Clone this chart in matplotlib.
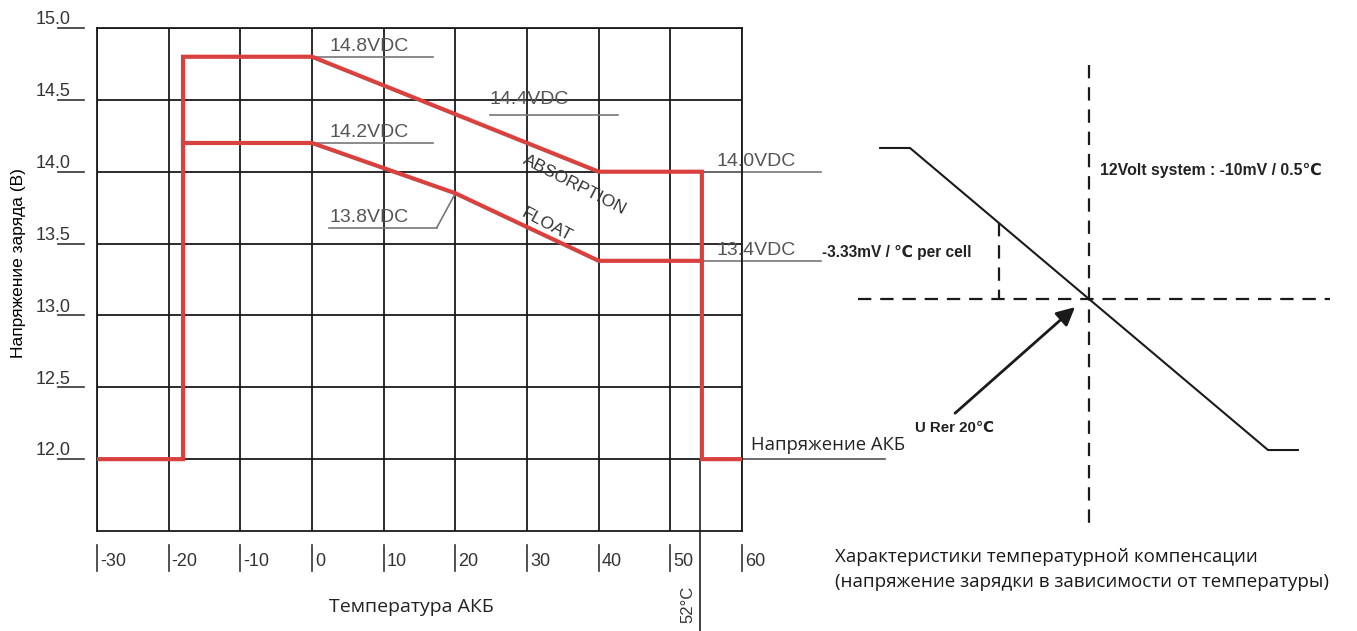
import numpy as np
import matplotlib
matplotlib.use("Agg")
import matplotlib.pyplot as plt

plt.rcParams['font.family'] = ['Liberation Sans', 'DejaVu Sans']

# --- left chart data (temperature C, voltage V) ---
x_ticks = [-30, -20, -10, 0, 10, 20, 30, 40, 50, 60]
y_ticks = [12.0, 12.5, 13.0, 13.5, 14.0, 14.5, 15.0]

# absorption curve (with the low-temp / high-temp cutoff legs)
abs_t = [-30, -18, -18, 0, 40, 54.4, 54.4, 60]
abs_v = [12.0, 12.0, 14.8, 14.8, 14.0, 14.0, 12.0, 12.0]
# float curve
flt_t = [-18, 0, 20, 40, 54.4]
flt_v = [14.2, 14.2, 13.85, 13.38, 13.38]

# labels: text, text x, text y, line x0, line x1, line y
vdc_labels = [
    ("14.8VDC", 2.4, 14.8, 0, 16.9, 14.8),
    ("14.2VDC", 2.4, 14.2, 0, 16.9, 14.2),
    ("13.8VDC", 2.4, 13.61, 2.4, 17.4, 13.61),
    ("14.0VDC", 56.5, 14.0, 54.4, 71.0, 14.0),
    ("13.4VDC", 56.5, 13.38, 54.4, 71.0, 13.38),
]
cutoff_t = 54.2

# --- right schematic data (temperature C, mV relative to 20C) ---
comp_t = [-15, -10, 50, 55]
comp_mv = [600, 600, -600, -600]
ref_t = 20
mark_t = 5

fig = plt.figure(figsize=(13.57, 6.31), dpi=100)
ax = fig.add_axes([97/1357, 100/631, 645/1357, 503/631])
ax.set_xlim(-30, 60)
ax.set_ylim(11.5, 15.0)
ax.set_xticks(x_ticks)
ax.set_yticks(y_ticks)
ax.grid(True, color='#1a1a1a', lw=1.3)
ax.tick_params(length=0, labelbottom=False, labelleft=False)
for s in ax.spines.values():
    s.set_color('#1a1a1a')
    s.set_linewidth(1.3)

red = '#d9413f'
ax.plot(abs_t, abs_v, color=red, lw=3, solid_joinstyle='miter', zorder=3)
ax.plot(flt_t, flt_v, color=red, lw=3, solid_joinstyle='miter', zorder=3)

gray = '#555555'
for txt, tx, ty, x0, x1, ly in vdc_labels:
    ax.text(tx, ty + 0.014, txt, fontsize=14, color=gray, ha='left', va='bottom', zorder=4)
    ax.plot([x0, x1], [ly, ly], color='#777777', lw=1.2, clip_on=False, zorder=2)
# 14.4VDC sits on the grid line, underline below it
ax.text(24.8, 14.5, "14.4VDC", fontsize=14, color=gray, ha='left', va='center', zorder=4)
ax.plot([24.8, 42.7], [14.395, 14.395], color='#777777', lw=1.2, zorder=2)
# leader of 13.8VDC
ax.plot([17.4, 19.9], [13.61, 13.84], color='#777777', lw=1.2, zorder=2)

ax.text(36.7, 13.91, "ABSORPTION", rotation=-27, fontsize=12.5, color='#333333',
        ha='center', va='center', rotation_mode='anchor')
ax.text(32.8, 13.63, "FLOAT", rotation=-28, fontsize=12.5, color='#333333',
        ha='center', va='center', rotation_mode='anchor')

# y tick labels with short underline
for v in y_ticks:
    ax.text(-33.7, v - 0.002, f"{v:.1f}", fontsize=13, color='#333333', ha='right', va='bottom',
            clip_on=False)
    ax.plot([-35.4, -31.8], [v, v], color='#333333', lw=1.2, clip_on=False)
# x tick labels with small bar
for t in x_ticks:
    ax.plot([t, t], [11.40, 11.22], color='#333333', lw=1.2, clip_on=False)
    ax.text(t + 0.4, 11.285, f"{t}", fontsize=13, color='#333333', ha='left', va='center',
            clip_on=False)

ax.text(-41.0, 13.365, "Напряжение заряда (В)", rotation=90, fontsize=12.5, ha='center',
        va='center', clip_on=False)
ax.text(13.9, 10.97, "Температура АКБ", fontsize=14, family=['Open Sans', 'DejaVu Sans'],
        ha='center', va='center', clip_on=False, color='#222222')

# 52C marker
ax.plot([cutoff_t, cutoff_t], [12.0, 10.6], color='#333333', lw=1.3, clip_on=False, zorder=2)
ax.text(52.4, 10.99, "52°C", rotation=90, fontsize=12, color='#333333', ha='center',
        va='center', clip_on=False)
ax.text(61.2, 12.1, "Напряжение АКБ", fontsize=13.3, family=['Open Sans', 'DejaVu Sans'],
        ha='left', va='center', clip_on=False, color='#222222')
ax.plot([60, 80], [12.0, 12.0], color='#555555', lw=1.2, clip_on=False)

# --- right schematic ---
ax2 = fig.add_axes([820/1357, 91/631, 520/1357, 500/631])
ax2.set_xlim(-25.08, 62.06)
ax2.set_ylim(-957.5, 1029)
ax2.axis('off')
dash = (0, (6, 4))
ax2.plot([ref_t, ref_t], [930, -917], color='#1a1a1a', lw=1.6, linestyle=dash)
ax2.plot([-18.7, 60.4], [0, 0], color='#1a1a1a', lw=1.6, linestyle=dash)
ax2.plot([mark_t, mark_t], [-20 * (mark_t - ref_t), 0], color='#1a1a1a', lw=1.6, linestyle=dash)
ax2.plot(comp_t, comp_mv, color='#1a1a1a', lw=1.5)

ax2.annotate("", xy=(18.0, -25), xytext=(-2.8, -461),
             arrowprops=dict(arrowstyle='-|>,head_length=1.1,head_width=0.55', color='#1a1a1a', lw=2))

ax2.text(21.8, 512, "12Volt system : -10mV / 0.5℃", fontsize=11.4, fontweight='bold',
         ha='left', va='center', color='#222222')
ax2.text(-24.7, 183, "-3.33mV / ℃ per cell", fontsize=11.2, fontweight='bold',
         ha='left', va='center', color='#222222')
ax2.text(-9.2, -512, "U Rer 20℃", fontsize=10.8, fontweight='bold',
         ha='left', va='center', color='#222222')

fig.text(835/1357, 1 - 557/631, "Характеристики температурной компенсации", fontsize=13.5,
         family=['Open Sans', 'DejaVu Sans'], ha='left', va='center', color='#1a1a1a')
fig.text(835/1357, 1 - 582/631, "(напряжение зарядки в зависимости от температуры)", fontsize=13.5,
         family=['Open Sans', 'DejaVu Sans'], ha='left', va='center', color='#1a1a1a')

fig.savefig("out.png", dpi=100)
